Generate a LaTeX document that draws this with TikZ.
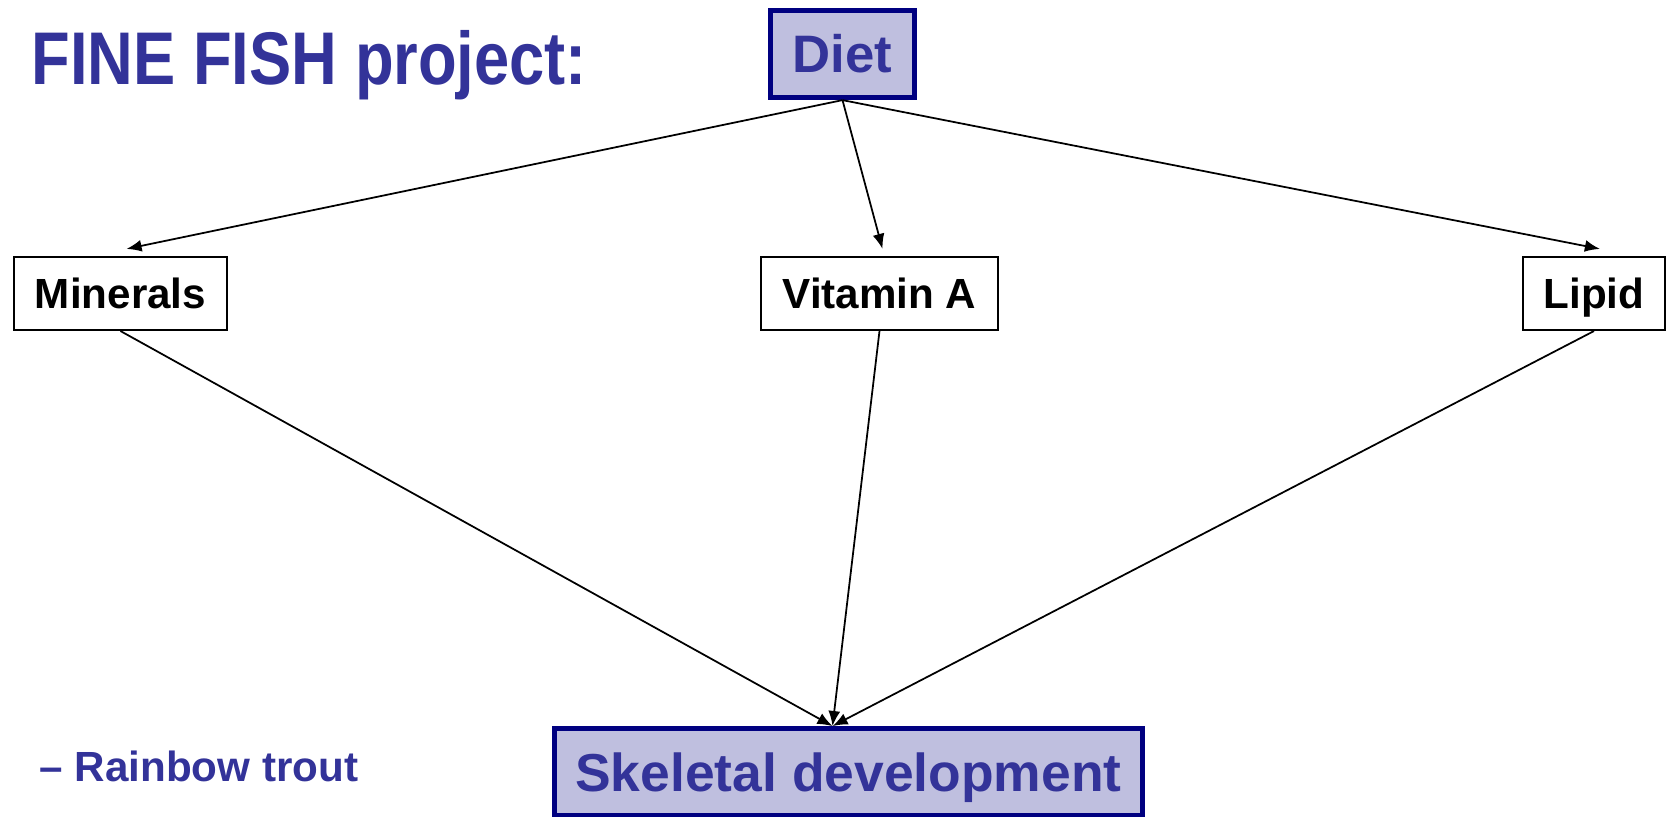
\documentclass[tikz,border=0pt]{standalone}
\usepackage{fontspec}
\setmainfont{Liberation Sans}
\usetikzlibrary{arrows.meta}
\definecolor{slideblue}{RGB}{51,51,153}
\definecolor{boxfill}{RGB}{191,191,223}
\definecolor{boxline}{RGB}{0,0,128}

\begin{document}
\begin{tikzpicture}[>={Latex[length=4.3pt,width=3.4pt]}, inner sep=0pt]% 1 unit = 100px of the slide
\useasboundingbox (0,0) rectangle (16.67,8.17);
\tikzstyle{every node}=[font=\bfseries]
\tikzstyle{factor}=[draw, line width=0.6pt, minimum height=0.73cm, text height=8.6pt, text depth=0pt, font=\fontsize{12}{14}\selectfont\bfseries]
\tikzstyle{keybox}=[draw=boxline, fill=boxfill, line width=1.5pt, text=slideblue]
\tikzstyle{link}=[->, line width=0.5pt]

\node[anchor=base west, text=slideblue, font=\fontsize{18}{22}\selectfont\bfseries] (title) at (0.31,7.32) {\scalebox{1}[1.18]{FINE FISH project:}};
\node[keybox, minimum width=1.44cm, minimum height=0.87cm, font=\fontsize{15}{18}\selectfont\bfseries] (diet) at (8.425,7.63) {Diet};

\node[factor, minimum width=2.13cm] (minerals) at (1.205,5.235) {Minerals};
\node[factor, minimum width=2.37cm] (vitA) at (8.795,5.235) {Vitamin A};
\node[factor, minimum width=1.42cm] (lipid) at (15.94,5.235) {Lipid};

\node[keybox, minimum width=5.88cm, minimum height=0.865cm, text height=11pt, text depth=0pt, font=\fontsize{15.2}{18}\selectfont\bfseries] (skel) at (8.485,0.45) {Skeletal development};
\node[anchor=base west, text=slideblue, font=\fontsize{12}{14}\selectfont\bfseries] (trout) at (0.39,0.35) {\textendash\ Rainbow trout};

%diet -> factors
\draw[link] (diet.south) -- ([xshift=.06cm,yshift=.07cm]minerals.north);
\draw[link] (diet.south) -- ([xshift=.03cm,yshift=.07cm]vitA.north);
\draw[link] (diet.south) -- ([xshift=.06cm,yshift=.07cm]lipid.north);

%factors -> skeleton
\draw[link] (minerals.south) -- ([xshift=-.16cm]skel.north);
\draw[link] (vitA.south) -- ([xshift=-.16cm]skel.north);
\draw[link] (lipid.south) -- ([xshift=-.16cm]skel.north);

\end{tikzpicture}
\end{document}
